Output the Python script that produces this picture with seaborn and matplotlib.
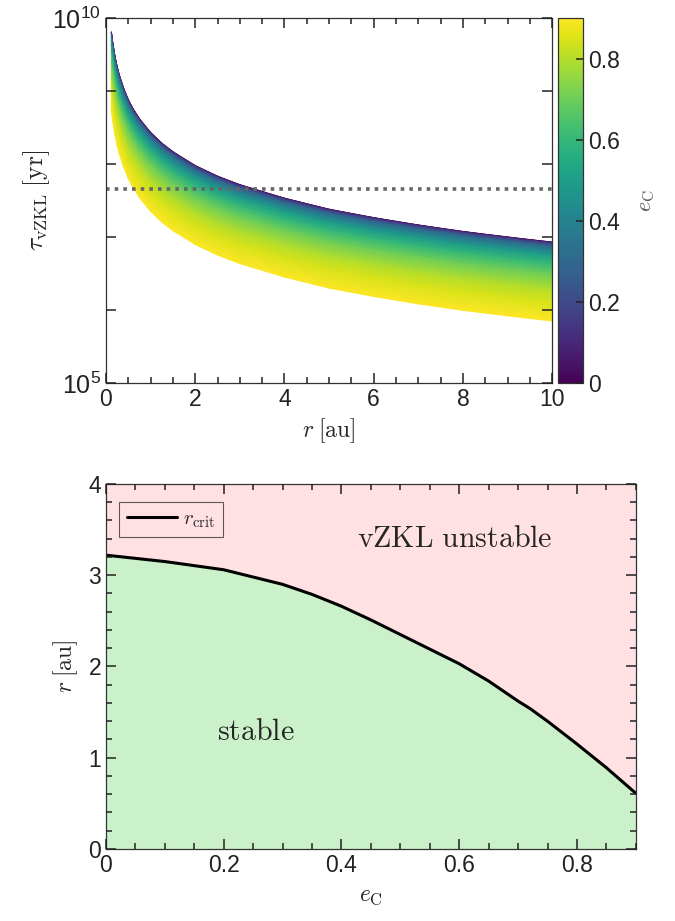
import numpy as np
import pandas as pd
import matplotlib
matplotlib.use('Agg')
import matplotlib.pyplot as plt
from matplotlib.ticker import MultipleLocator, NullLocator, FixedFormatter
import seaborn as sns

# values
r_au = [0.12, 0.15, 0.2, 0.25, 0.3, 0.4, 0.5, 0.6, 0.75, 1.0, 1.25, 1.5,
        2.0, 2.5, 3.0, 4.0, 5.0, 6.0, 7.0, 8.0, 9.0, 10.0]
tau_circ = [6.5e9, 4.65e9, 3.02e9, 2.16e9, 1.64e9, 1.07e9, 7.6e8, 5.8e8, 4.16e8,
            2.7e8, 1.93e8, 1.47e8, 9.5e7, 6.8e7, 5.2e7, 3.4e7, 2.4e7, 1.84e7,
            1.46e7, 1.19e7, 1.0e7, 8.5e6]
ecc_levels = [0.0, 0.1, 0.2, 0.3, 0.4, 0.5, 0.6, 0.7, 0.8, 0.85, 0.9]
tau_ratio = [1.0, 0.985, 0.94, 0.87, 0.77, 0.65, 0.51, 0.36, 0.22, 0.146, 0.083]
tau_ref = 4.5e7

ecc_crit = [0.0, 0.1, 0.2, 0.3, 0.35, 0.4, 0.45, 0.5, 0.55, 0.6, 0.65, 0.7,
            0.72, 0.75, 0.8, 0.85, 0.9]
r_crit = [3.22, 3.15, 3.06, 2.90, 2.79, 2.66, 2.51, 2.35, 2.19, 2.03, 1.84, 1.62,
          1.54, 1.40, 1.15, 0.89, 0.61]

sns.set_theme(style='ticks')
plt.rcParams['font.family'] = ['Liberation Sans', 'DejaVu Sans']
plt.rcParams['mathtext.fontset'] = 'cm'
plt.rcParams['axes.linewidth'] = 0.9
plt.rcParams['axes.edgecolor'] = '#333333'
plt.rcParams['axes.axisbelow'] = False

fig = plt.figure(figsize=(6.75, 9.21), dpi=100)
ax1 = fig.add_axes([0.157, 0.5842, 0.661, 0.3963])
cax = fig.add_axes([0.8267, 0.5842, 0.037, 0.3963])
ax2 = fig.add_axes([0.157, 0.0782, 0.785, 0.3963])

tick_kw = dict(which='both', direction='in', bottom=True, left=True, top=True, right=True,
               colors='#222222', labelsize=16.5, width=1.1)

# ---- top panel: timescale band coloured by e_C
R, E = np.meshgrid(r_au, ecc_levels)
T = np.outer(tau_ratio, tau_circ)
mesh = ax1.pcolormesh(R, T, E, shading='gouraud', cmap='viridis', vmin=0, vmax=0.9)
ax1.axhline(tau_ref, color='#666666', lw=2.6, linestyle=(0, (1, 1.4)))
ax1.set_yscale('log')
ax1.set_xlim(0, 10)
ax1.set_ylim(1e5, 1e10)
ax1.set_xticks(range(0, 11, 2))
ax1.xaxis.set_minor_locator(MultipleLocator(0.5))
ax1.set_yticks([1e5, 1e6, 1e7, 1e8, 1e9, 1e10])
ax1.yaxis.set_major_formatter(FixedFormatter(
    [r'$\mathregular{10^5}$', '', '', '', '', r'$\mathregular{10^{10}}$']))
ax1.yaxis.set_minor_locator(NullLocator())
ax1.set_axisbelow(False)
ax1.tick_params(**tick_kw)
ax1.tick_params(which='major', length=7)
ax1.tick_params(which='minor', length=4)
ax1.tick_params(axis='y', labelsize=18)
ax1.set_xlabel(r'$r\;[\mathrm{au}]$', fontsize=17, labelpad=4)
ax1.set_ylabel(r'$\tau_\mathrm{vZKL}\;[\mathrm{yr}]$', fontsize=18.5, labelpad=0)

cb = fig.colorbar(mesh, cax=cax, ticks=[0, 0.2, 0.4, 0.6, 0.8])
cb.ax.set_yticklabels(['0', '0.2', '0.4', '0.6', '0.8'])
cb.ax.tick_params(direction='in', length=5, width=1.1, labelsize=16.5, colors='#222222')
cb.outline.set_linewidth(0.9)
cb.set_label(r'$e_\mathrm{C}$', fontsize=16, color='#555555', labelpad=12)

# ---- bottom panel: stability regions
df = pd.DataFrame({'e_C': ecc_crit, 'r_crit': r_crit})
ax2.fill_between(df['e_C'], df['r_crit'], 4, color='#ffe1e4', lw=0)
ax2.fill_between(df['e_C'], 0, df['r_crit'], color='#cbf1cb', lw=0)
sns.lineplot(data=df, x='e_C', y='r_crit', ax=ax2, color='black', lw=2.2,
             label=r'$r_\mathrm{crit}$')
ax2.set_xlim(0, 0.9)
ax2.set_ylim(0, 4)
ax2.set_xticks([0, 0.2, 0.4, 0.6, 0.8])
ax2.set_xticklabels(['0', '0.2', '0.4', '0.6', '0.8'])
ax2.xaxis.set_minor_locator(MultipleLocator(0.05))
ax2.set_yticks([0, 1, 2, 3, 4])
ax2.yaxis.set_minor_locator(MultipleLocator(0.2))
ax2.set_axisbelow(False)
ax2.tick_params(**tick_kw)
ax2.tick_params(which='major', length=7)
ax2.tick_params(which='minor', length=4)
ax2.set_xlabel(r'$e_\mathrm{C}$', fontsize=17, labelpad=6)
ax2.set_ylabel(r'$r\;[\mathrm{au}]$', fontsize=17, labelpad=6)
ax2.text(0.593, 3.40, r'$\mathrm{vZKL\ unstable}$', fontsize=21.5, ha='center', va='center')
ax2.text(0.255, 1.28, r'$\mathrm{stable}$', fontsize=21.5, ha='center', va='center')
leg = ax2.legend(loc='upper left', bbox_to_anchor=(0.025, 0.95), fontsize=15,
                 frameon=True, fancybox=False, handlelength=2.4, borderpad=0.35,
                 handletextpad=0.3, borderaxespad=0)
leg.get_frame().set_edgecolor('#333333')
leg.get_frame().set_facecolor('none')
leg.get_frame().set_linewidth(0.8)

fig.savefig('out.png', dpi=100)
